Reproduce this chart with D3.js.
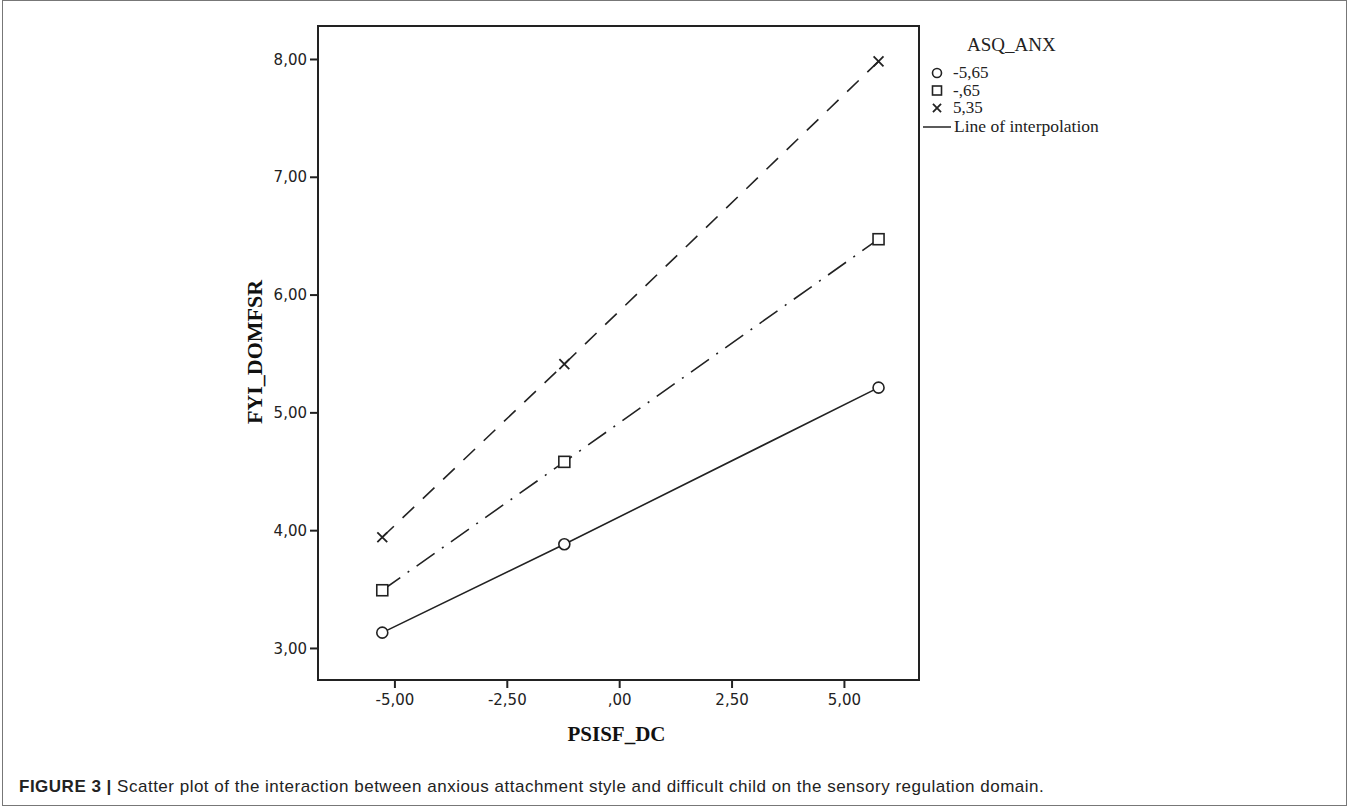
<!DOCTYPE html>
<html>
<head>
<meta charset="utf-8">
<script src="https://cdn.jsdelivr.net/npm/d3@7"></script>
<style>
  body { margin: 0; background: #fff; }
</style>
</head>
<body>
<div id="chart"></div>
<script>
// PSISF_DC values where the three lines were evaluated
var psisfValues = [-5.27, -1.22, 5.77];

// ASQ_ANX groups and the FYI_DOMFSR values
var groupValues = [-5.65, -0.65, 5.35];
var lowAnx = [3.13, 3.88, 5.21];
var midAnx = [3.49, 4.58, 6.47];
var highAnx = [3.94, 5.41, 7.98];

var xTicks = [-5, -2.5, 0, 2.5, 5];
var yTicks = [3, 4, 5, 6, 7, 8];

var series = [
  { label: groupValues[0], values: lowAnx, symbol: "circle", dash: null },
  { label: groupValues[1], values: midAnx, symbol: "square", dash: "22,9,2,9" },
  { label: groupValues[2], values: highAnx, symbol: "cross", dash: "16,12" }
];

var width = 1354, height = 812;

var locale = d3.formatLocale({ decimal: ",", thousands: ".", grouping: [3], currency: ["", ""], minus: "-" });
var fmt2 = locale.format(".2f");
function spss(d) {
  // SPSS drops the leading zero: ,00  -,65
  return fmt2(d).replace(/^(-?)0,/, "$1,");
}

var svg = d3.select("#chart")
  .append("svg")
    .attr("width", width)
    .attr("height", height);

// figure frame
svg.append("rect")
  .attr("x", 2.5).attr("y", 0.5)
  .attr("width", 1344).attr("height", 805)
  .attr("fill", "none")
  .attr("stroke", "#777")
  .attr("stroke-width", 1);

var plotLeft = 318, plotRight = 919, plotTop = 26, plotBottom = 680;

var x = d3.scaleLinear().domain([-6.70, 6.67]).range([plotLeft, plotRight]);
var y = d3.scaleLinear().domain([2.728, 8.28]).range([plotBottom, plotTop]);

var tickFont = "'DejaVu Sans', Verdana, sans-serif";
var serif = "'Liberation Serif', 'Times New Roman', serif";

var xAxis = d3.axisBottom(x).tickValues(xTicks).tickFormat(spss).tickSize(8).tickSizeOuter(0);
var yAxis = d3.axisLeft(y).tickValues(yTicks).tickFormat(spss).tickSize(8).tickSizeOuter(0);

var gx = svg.append("g")
  .attr("transform", "translate(0," + plotBottom + ")")
  .call(xAxis);
var gy = svg.append("g")
  .attr("transform", "translate(" + plotLeft + ",0)")
  .call(yAxis);

[gx, gy].forEach(function(g) {
  g.select(".domain").remove();
  g.selectAll(".tick line").attr("stroke", "#222").attr("stroke-width", 2);
  g.selectAll(".tick text")
    .attr("fill", "#222")
    .style("font-family", tickFont)
    .style("font-size", "15px");
});
gx.selectAll(".tick text").attr("dy", "0.85em").attr("y", 12);
gy.selectAll(".tick text").attr("x", -11).attr("dy", "0.34em");

// plot frame
svg.append("rect")
  .attr("x", plotLeft).attr("y", plotTop)
  .attr("width", plotRight - plotLeft).attr("height", plotBottom - plotTop)
  .attr("fill", "none")
  .attr("stroke", "#222")
  .attr("stroke-width", 2);

// axis titles
svg.append("text")
  .attr("x", (plotLeft + plotRight) / 2 - 2)
  .attr("y", 741)
  .attr("text-anchor", "middle")
  .style("font-family", serif)
  .style("font-weight", "bold")
  .style("font-size", "21px")
  .attr("fill", "#111")
  .text("PSISF_DC");

svg.append("text")
  .attr("transform", "translate(262,352) rotate(-90)")
  .attr("text-anchor", "middle")
  .style("font-family", serif)
  .style("font-weight", "bold")
  .style("font-size", "22px")
  .attr("fill", "#111")
  .text("FYI_DOMFSR");

var line = d3.line()
  .x(function(d, i) { return x(psisfValues[i]); })
  .y(function(d) { return y(d); });

function drawSymbol(g, type, cx, cy, s) {
  if (type === "circle") {
    g.append("circle").attr("cx", cx).attr("cy", cy).attr("r", s * 0.5)
      .attr("fill", "#fff").attr("stroke", "#222").attr("stroke-width", 1.6);
  } else if (type === "square") {
    g.append("rect").attr("x", cx - s / 2).attr("y", cy - s / 2)
      .attr("width", s).attr("height", s)
      .attr("fill", "#fff").attr("stroke", "#222").attr("stroke-width", 1.6);
  } else {
    var h = s * 0.45;
    g.append("path")
      .attr("d", "M" + (cx - h) + "," + (cy - h) + "L" + (cx + h) + "," + (cy + h) +
                 "M" + (cx - h) + "," + (cy + h) + "L" + (cx + h) + "," + (cy - h))
      .attr("stroke", "#222").attr("stroke-width", 1.8);
  }
}

var plot = svg.append("g");

series.forEach(function(s) {
  plot.append("path")
    .datum(s.values)
    .attr("d", line)
    .attr("fill", "none")
    .attr("stroke", "#222")
    .attr("stroke-width", 1.6)
    .attr("stroke-dasharray", s.dash);
});

series.forEach(function(s) {
  s.values.forEach(function(v, i) {
    drawSymbol(plot, s.symbol, x(psisfValues[i]), y(v), 11);
  });
});

// legend
var lg = svg.append("g");
lg.append("text")
  .attr("x", 967).attr("y", 51)
  .style("font-family", serif)
  .style("font-size", "19px")
  .attr("fill", "#222")
  .text("ASQ_ANX");

series.forEach(function(s, i) {
  var ly = 73 + i * 17.5;
  drawSymbol(lg, s.symbol, 937, ly, 9);
  lg.append("text")
    .attr("x", 953).attr("y", ly + 5)
    .style("font-family", serif)
    .style("font-size", "17px")
    .attr("fill", "#222")
    .text(spss(s.label));
});

lg.append("line")
  .attr("x1", 923).attr("x2", 951)
  .attr("y1", 127).attr("y2", 127)
  .attr("stroke", "#333").attr("stroke-width", 1.6);
lg.append("text")
  .attr("x", 954).attr("y", 132)
  .style("font-family", serif)
  .style("font-size", "17.5px")
  .attr("fill", "#222")
  .text("Line of interpolation");

// caption
var cap = svg.append("text")
  .attr("x", 19).attr("y", 792)
  .style("font-family", "'Liberation Sans', Arial, sans-serif")
  .style("font-size", "17px")
  .style("letter-spacing", "0.5px")
  .attr("fill", "#222");
cap.append("tspan").style("font-weight", "bold").text("FIGURE 3 | ");
cap.append("tspan").text("Scatter plot of the interaction between anxious attachment style and difficult child on the sensory regulation domain.");
</script>
</body>
</html>
